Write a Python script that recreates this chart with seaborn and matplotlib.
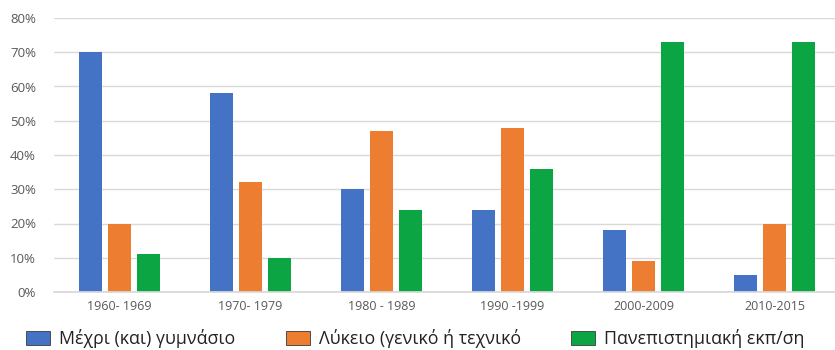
import matplotlib
matplotlib.use("Agg")
import matplotlib.pyplot as plt
import seaborn as sns
import pandas as pd
from matplotlib.patches import Patch

periods = ["1960- 1969", "1970- 1979", "1980 - 1989", "1990 -1999", "2000-2009", "2010-2015"]
series_names = ["Μέχρι (και) γυμνάσιο", "Λύκειο (γενικό ή τεχνικό", "Πανεπιστημιακή εκπ/ση"]
gymnasio = [70, 58, 30, 24, 18, 5]
lykeio = [20, 32, 47, 48, 9, 20]
panepist = [11, 10, 24, 36, 73, 73]
colors = ["#4472C4", "#ED7D31", "#0BA544"]
yticks = [0, 10, 20, 30, 40, 50, 60, 70, 80]

rows = []
for name, vals in zip(series_names, [gymnasio, lykeio, panepist]):
    for p, v in zip(periods, vals):
        rows.append({"period": p, "series": name, "value": v})
df = pd.DataFrame(rows)

sns.set_theme(style="white")
plt.rcParams["font.family"] = ["Open Sans", "DejaVu Sans"]

fig = plt.figure(figsize=(8.35, 3.5), dpi=100)
ax = fig.add_axes([54 / 835, 58 / 350, 786 / 835, 274 / 350])

sns.barplot(data=df, x="period", y="value", hue="series", order=periods,
            hue_order=series_names, palette=colors, width=0.675, gap=0.22,
            ax=ax, legend=False, saturation=1, linewidth=0)

ax.set_ylim(0, 80)
ax.set_yticks(yticks)
ax.set_yticklabels([f"{t}%" for t in yticks])
ax.set_xlim(-0.5, 5.5)
ax.set_xlabel("")
ax.set_ylabel("")
ax.yaxis.grid(True, color="#D9D9D9", linewidth=1)
ax.set_axisbelow(True)
for s in ["top", "right", "left"]:
    ax.spines[s].set_visible(False)
ax.spines["bottom"].set_color("#D9D9D9")
ax.tick_params(axis="both", length=0, colors="#595959")
ax.tick_params(axis="y", labelsize=9.5, pad=13)
ax.tick_params(axis="x", labelsize=9, pad=6)

# legend entries placed like the reference (three entries at fixed x positions)
legend_x = [14, 274, 559]
for c, name, x in zip(colors, series_names, legend_x):
    h = Patch(facecolor=c, edgecolor="#3a3a3a", linewidth=0.6)
    fig.legend([h], [name], loc="center left", bbox_to_anchor=(x / 835, 11 / 350),
               frameon=False, fontsize=12.8, handlelength=1.3, handleheight=0.85,
               handletextpad=0.55, labelcolor="#222222", borderpad=0.2)

fig.savefig("out.png", dpi=100)
